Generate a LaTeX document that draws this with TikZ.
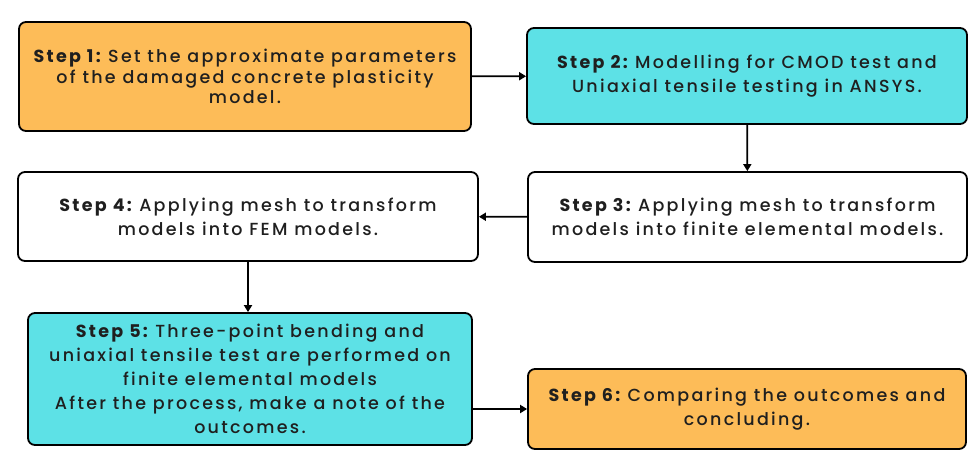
\documentclass[tikz,border=0pt]{standalone}
\usepackage{fontspec}
\setmainfont{Poppins}[LetterSpace=13,UprightFont=* Medium,BoldFont=* Bold]
\usetikzlibrary{arrows.meta}
\definecolor{orangebox}{RGB}{253,188,88}
\definecolor{cyanbox}{RGB}{93,225,230}
\tikzset{
  stepbox/.style={draw=black, line width=1.8pt, rounded corners=7pt, align=center,
    inner sep=0pt, font=\fontsize{17.5}{24}\selectfont, text=black!88},
  conn/.style={line width=1.8pt, -{Triangle[length=7pt,width=8pt]}},
}
\newcommand{\stp}[1]{\textbf{#1}\hspace{-4pt}}
\begin{document}
\begin{tikzpicture}[x=1pt,y=-1pt]
\useasboundingbox[fill=white] (0,0) rectangle (968,459);
\node[stepbox, fill=orangebox, minimum width=452pt, minimum height=109pt,
  font=\fontsize{17.5}{20.5}\selectfont] (s1) at (245,76.5)
  {\stp{Step 1:} Set the approximate parameters\\ of the damaged concrete plasticity\\ model.};
\node[stepbox, fill=cyanbox, minimum width=440pt, minimum height=96pt] (s2) at (747,76)
  {\stp{Step 2:} Modelling for CMOD test and\\ Uniaxial tensile testing in ANSYS.};
\node[stepbox, fill=white, minimum width=439pt, minimum height=90pt] (s3) at (747.5,217)
  {\stp{Step 3:} Applying mesh to transform\\ models into finite elemental models.};
\node[stepbox, fill=white, minimum width=460pt, minimum height=89pt] (s4) at (248,216.5)
  {\stp{Step 4:} Applying mesh to transform\\ models into FEM models.};
\node[stepbox, fill=cyanbox, minimum width=444pt, minimum height=132pt] (s5) at (250,379)
  {\stp{Step 5:} Three-point bending and\\ uniaxial tensile test are performed on\\ finite elemental models\\ After the process, make a note of the\\ outcomes.};
\node[stepbox, fill=orangebox, minimum width=438pt, minimum height=80pt] (s6) at (747,409)
  {\stp{Step 6:} Comparing the outcomes and\\ concluding.};
\draw[conn] (s1) -- (s2);
\draw[conn] (s2) -- (s3);
\draw[conn] (s3) -- (s4);
\draw[conn] (s4.south) -- (s4.south |- s5.north);
\coordinate (a5) at (s5.east |- s6.west);
\draw[conn] (a5) -- (s6.west);
\end{tikzpicture}
\end{document}
